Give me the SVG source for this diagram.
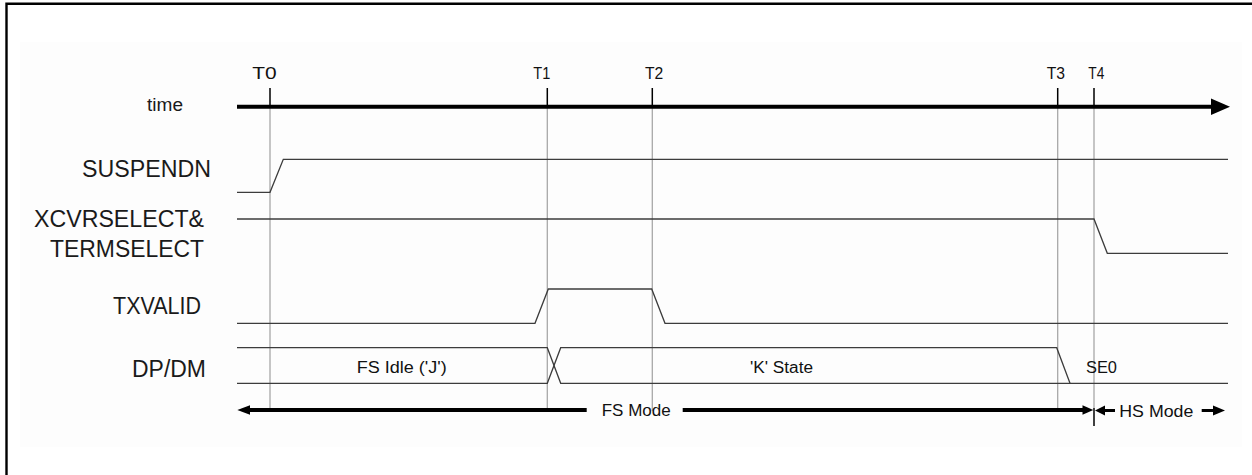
<svg xmlns="http://www.w3.org/2000/svg" width="1252" height="475" viewBox="0 0 1252 475">
<style>
.sig{fill:none;stroke:#3c3c3c;stroke-width:1.3}
.guide{fill:none;stroke:#a8a8a8;stroke-width:1.3}
.tick{fill:none;stroke:#000;stroke-width:1.5}
.axis{fill:none;stroke:#000;stroke-width:4}
.head{fill:#000;stroke:none}
.lbl{font-family:"Liberation Sans",Arial,sans-serif;font-size:23px;fill:#1a1a1a}
.tl{font-family:"Liberation Sans",Arial,sans-serif;font-size:17px;fill:#111}
.st{font-family:"Liberation Sans",Arial,sans-serif;font-size:16px;fill:#111}
.md{font-family:"Liberation Sans",Arial,sans-serif;font-size:17px;fill:#111}
</style>
<rect x="0" y="0" width="1252" height="475" fill="#fff"/>
<rect x="20" y="42" width="1222" height="405" fill="#fdfdfd"/>
<path d="M6.5,475 V3.8 H1252" fill="none" stroke="#000" stroke-width="2.4"/>

<g id="guides">
<path class="guide" d="M270,107 V408 M547.3,107 V408 M652.3,107 V411 M1057.7,107 V408 M1094,107 V408"/>
<path class="tick" d="M270,88 V106 M547.3,88 V106 M652.3,88 V106 M1057.7,88 V106 M1094,88 V106 M1094,408 V426"/>
</g>

<g id="time-axis">
<text class="lbl" x="183" y="111" text-anchor="end" style="font-size:18px" textLength="36" lengthAdjust="spacingAndGlyphs">time</text>
<path class="axis" d="M237,106.7 H1214"/>
<polygon class="head" points="1211,98.5 1230,106.7 1211,115"/>
<text class="tl" x="252.3" y="78.5" textLength="24.4" lengthAdjust="spacingAndGlyphs">T0</text>
<text class="tl" x="533.3" y="78.5" textLength="17" lengthAdjust="spacingAndGlyphs">T1</text>
<text class="tl" x="645" y="78.5" textLength="18.3" lengthAdjust="spacingAndGlyphs">T2</text>
<text class="tl" x="1046.7" y="78.5" textLength="18.3" lengthAdjust="spacingAndGlyphs">T3</text>
<text class="tl" x="1088.3" y="78.5" textLength="16" lengthAdjust="spacingAndGlyphs">T4</text>
</g>

<g id="suspendn">
<text class="lbl" x="211" y="176.5" text-anchor="end" textLength="129" lengthAdjust="spacingAndGlyphs">SUSPENDN</text>
<path class="sig" d="M237,192.3 H270 L283.3,159.3 H1228"/>
</g>

<g id="xcvrselect">
<text class="lbl" x="204" y="227" text-anchor="end" textLength="170" lengthAdjust="spacingAndGlyphs">XCVRSELECT&amp;</text>
<text class="lbl" x="204" y="256.5" text-anchor="end" textLength="154" lengthAdjust="spacingAndGlyphs">TERMSELECT</text>
<path class="sig" d="M237,219 H1094 L1107.3,253.3 H1228"/>
</g>

<g id="txvalid">
<text class="lbl" x="201" y="314" text-anchor="end" textLength="88" lengthAdjust="spacingAndGlyphs">TXVALID</text>
<path class="sig" d="M237,323.3 H535 L548.3,289 H651.7 L665,323.3 H1228"/>
</g>

<g id="dpdm">
<text class="lbl" x="206" y="377" text-anchor="end" textLength="74" lengthAdjust="spacingAndGlyphs">DP/DM</text>
<path class="sig" d="M237,347.7 H547.3 L560.7,383.3 H1228"/>
<path class="sig" d="M237,383.3 H547.3 L560.7,347.7 H1056.7 L1070,383.3"/>
<text class="st" x="356.7" y="373" textLength="90" lengthAdjust="spacingAndGlyphs">FS Idle ('J')</text>
<text class="st" x="750" y="373" textLength="63" lengthAdjust="spacingAndGlyphs">'K' State</text>
<text class="st" x="1086" y="373" textLength="31" lengthAdjust="spacingAndGlyphs">SE0</text>
</g>

<g id="fs-mode">
<path class="axis" d="M248,410 H586.7 M682.7,410 H1084"/>
<polygon class="head" points="237.3,410 250,405.3 250,414.7"/>
<polygon class="head" points="1093.3,410 1082.5,405.3 1082.5,414.7"/>
<text class="md" x="601.7" y="416" textLength="69" lengthAdjust="spacingAndGlyphs">FS Mode</text>
</g>

<g id="hs-mode">
<path fill="none" stroke="#000" stroke-width="3" d="M1104,410.5 H1115 M1201.7,410.5 H1215"/>
<polygon class="head" points="1095,410.5 1105,405.5 1105,415.5"/>
<polygon class="head" points="1225,410.5 1213,405.5 1213,415.5"/>
<text class="md" x="1119.3" y="417" textLength="74" lengthAdjust="spacingAndGlyphs">HS Mode</text>
</g>
</svg>
